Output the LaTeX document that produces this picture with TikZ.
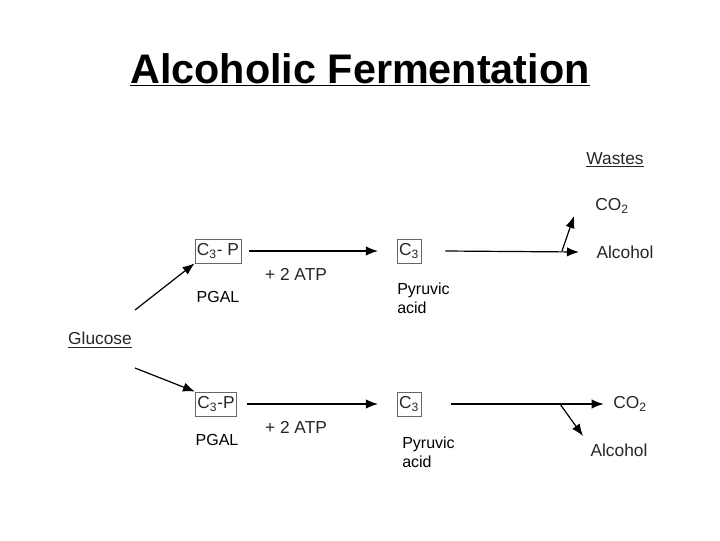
\documentclass[tikz,border=0pt]{standalone}
\usepackage{fontspec}
\setmainfont{Liberation Sans}
\usetikzlibrary{arrows.meta}
\begin{document}
\begin{tikzpicture}[x=0.75pt,y=-0.75pt,
 txt/.style={font=\fontsize{13}{14}\selectfont,text=black!85,inner sep=1pt},
 lbl/.style={font=\fontsize{12}{14}\selectfont,text=black,inner sep=0pt,align=left},
 bx/.style={txt,draw=black!60,line width=0.6pt,inner sep=1.5pt,minimum height=18pt},
 arr/.style={-{Latex[length=9pt,width=7pt]},line width=0.9pt,black}]
\useasboundingbox (0,0) rectangle (720,540);
\node[font=\bfseries\fontsize{31}{36}\selectfont] (title) at (360,70) {\underline{Alcoholic Fermentation}};
\node[txt] (wastes) at (615,160) {\underline{Wastes}};
\node[txt] (co2a) at (612,206) {CO\textsubscript{2}};
\node[txt] (alca) at (625,252) {Alcohol};
\node[bx] (pa) at (218,251) {C\textsubscript{3}- P};
\node[bx] (ca) at (409,251) {C\textsubscript{3}};
\node[txt] (atpa) at (296,274) {+ 2 ATP};
\node[lbl] (pgala) at (218,297) {PGAL};
\node[lbl,anchor=north west] (pyra) at (397,283) {Pyruvic\\acid};
\node[txt] (glu) at (100,340) {\underline{Glucose}};
\node[bx] (pb) at (216,404) {C\textsubscript{3}-P};
\node[bx] (cb) at (409,404) {C\textsubscript{3}};
\node[txt] (atpb) at (296,427) {+ 2 ATP};
\node[lbl] (pgalb) at (217,440) {PGAL};
\node[lbl,anchor=north west] (pyrb) at (402,437) {Pyruvic\\acid};
\node[txt] (co2b) at (630,404) {CO\textsubscript{2}};
\node[txt] (alcb) at (619,450) {Alcohol};
\coordinate (ga) at (135,310);
\coordinate (gb) at (135,368);
\coordinate (ja) at (562,251);
\coordinate (jb) at (560,404);
\draw[arr] (ga) -- (pa.south west);
\draw[arr] (gb) -- (pb.north west);
\draw[arr] (pa.east)++(8,0) -- ([xshift=-14pt]ca.west);
\draw[arr] (pb.east)++(10,0) -- ([xshift=-14pt]cb.west);
\draw[arr] ([xshift=18pt]ca.east) -- ([xshift=-12pt]alca.west);
\draw[arr] ([xshift=22pt]cb.east) -- ([xshift=-6pt]co2b.west);
\draw[arr] (ja) -- (574,216);
\draw[arr] (jb) -- (583,436);
\end{tikzpicture}
\end{document}
